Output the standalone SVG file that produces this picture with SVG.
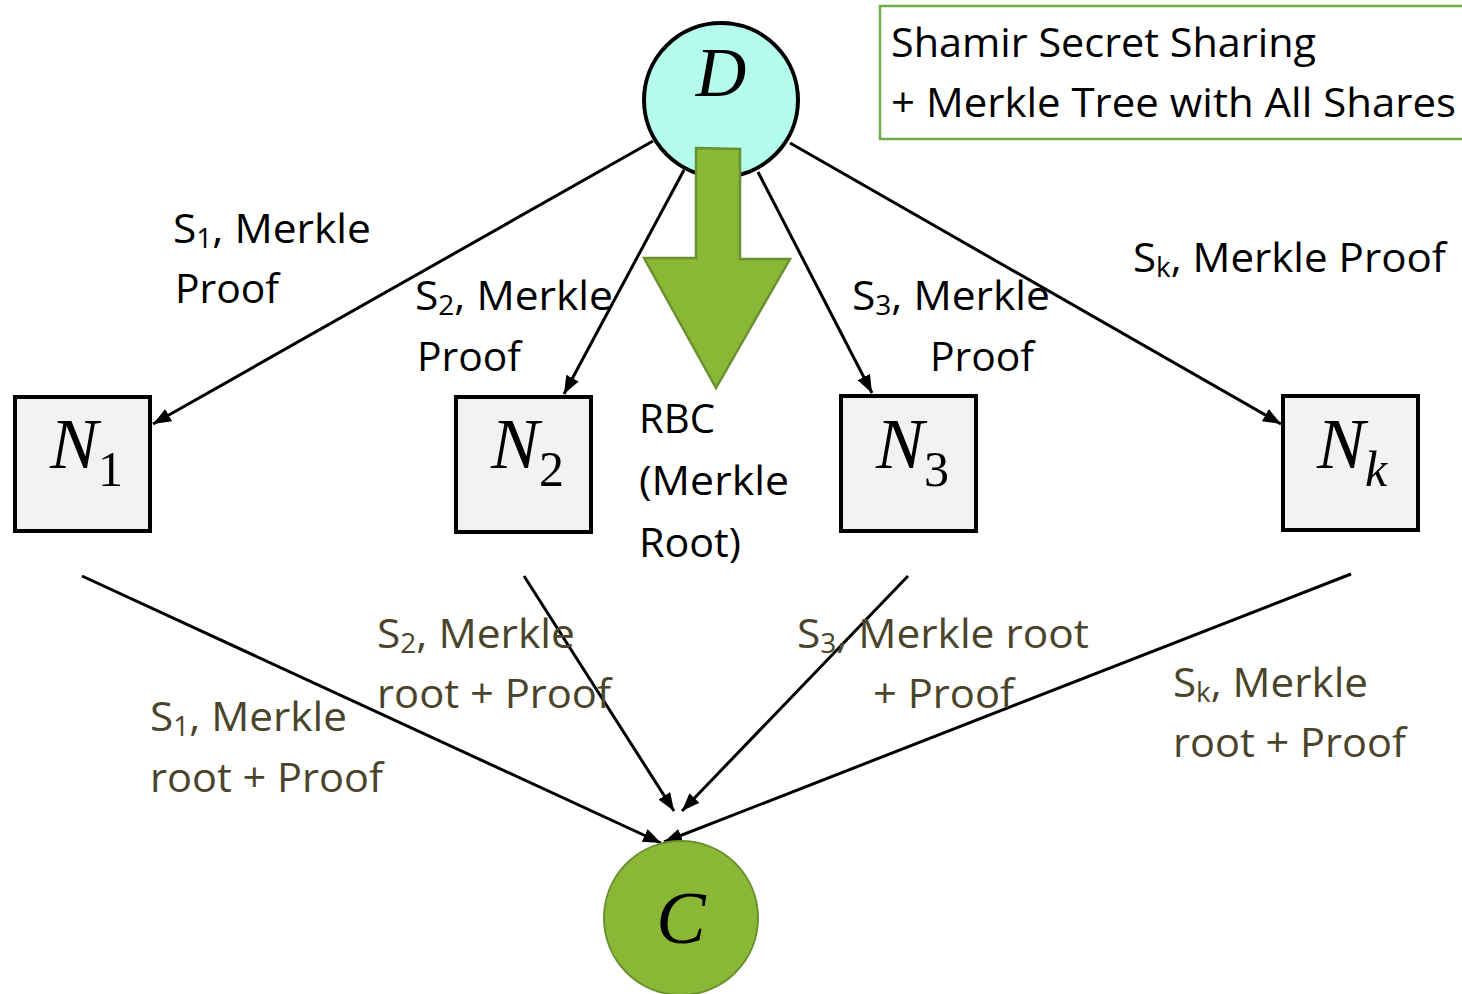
<svg xmlns="http://www.w3.org/2000/svg" width="1462" height="994" viewBox="0 0 1462 994">
  <style>
    .lbl { font-family: "Open Sans", "Noto Sans", sans-serif; font-size: 41px; fill: #000; }
    .lbl2 { font-family: "Open Sans", "Noto Sans", sans-serif; font-size: 41px; fill: #4a452a; }
    .sub { font-size: 27px; }
    .math { font-family: "Liberation Serif", "DejaVu Serif", serif; font-style: italic; fill: #000; }
    .box { fill: #f2f2f2; stroke: #000; stroke-width: 4; }
    .edge { stroke: #000; stroke-width: 3; fill: none; marker-end: url(#ah); }
  </style>
  <defs>
    <marker id="ah" markerUnits="userSpaceOnUse" markerWidth="20" markerHeight="16" refX="18" refY="7" orient="auto">
      <path d="M0,0 L18,7 L0,14 Z" fill="#000"/>
    </marker>
  </defs>
  <rect width="1462" height="994" fill="#fff"/>

  <!-- legend -->
  <g id="legend">
    <rect x="880" y="6" width="590" height="133" fill="#fff" stroke="#70ad47" stroke-width="2.5"/>
    <text class="lbl" x="891" y="57" textLength="425" lengthAdjust="spacingAndGlyphs">Shamir Secret Sharing</text>
    <text class="lbl" x="891" y="117" textLength="565" lengthAdjust="spacingAndGlyphs">+ Merkle Tree with All Shares</text>
  </g>

  <!-- connectors -->
  <g id="connectors">
    <line class="edge" x1="653" y1="141" x2="153" y2="424"/>
    <line class="edge" x1="684" y1="170" x2="564" y2="394"/>
    <line class="edge" x1="758" y1="172" x2="872" y2="393"/>
    <line class="edge" x1="790" y1="143" x2="1281" y2="424"/>
    <line class="edge" x1="82" y1="576" x2="661" y2="843"/>
    <line class="edge" x1="524" y1="576" x2="674" y2="811"/>
    <line class="edge" x1="908" y1="576" x2="682" y2="811"/>
    <line class="edge" x1="1351" y1="574" x2="664" y2="842"/>
  </g>

  <!-- dealer -->
  <g id="node-D">
    <circle cx="721" cy="100" r="77" fill="#b4fcec" stroke="#000" stroke-width="4"/>
    <text class="math" x="721" y="96" font-size="70" text-anchor="middle">D</text>
  </g>

  <!-- reliable broadcast of the root -->
  <g id="rbc-arrow">
    <path d="M696,148 L740,149 L740,259 L790,259 L716,388 L644,258 L696,258 Z" fill="#8ab735" stroke="#6a9130" stroke-width="2.5"/>
    <text class="lbl" x="639" y="433" textLength="76" lengthAdjust="spacingAndGlyphs">RBC</text>
    <text class="lbl" x="639" y="495" textLength="150" lengthAdjust="spacingAndGlyphs">(Merkle</text>
    <text class="lbl" x="639" y="557" textLength="102" lengthAdjust="spacingAndGlyphs">Root)</text>
  </g>

  <!-- share holders -->
  <g id="node-N1">
    <rect class="box" x="15" y="397" width="135" height="134"/>
    <text class="math" x="50" y="468" font-size="72">N<tspan font-size="50" font-style="normal" dy="18">1</tspan></text>
  </g>
  <g id="node-N2">
    <rect class="box" x="456" y="397" width="135" height="135"/>
    <text class="math" x="491" y="468" font-size="72">N<tspan font-size="50" font-style="normal" dy="18">2</tspan></text>
  </g>
  <g id="node-N3">
    <rect class="box" x="841" y="396" width="135" height="135"/>
    <text class="math" x="876" y="468" font-size="72">N<tspan font-size="50" font-style="normal" dy="18">3</tspan></text>
  </g>
  <g id="node-Nk">
    <rect class="box" x="1283" y="396" width="135" height="134"/>
    <text class="math" x="1317" y="468" font-size="72">N<tspan font-size="50" dy="18">k</tspan></text>
  </g>

  <!-- collector -->
  <g id="node-C">
    <circle cx="681" cy="918" r="77" fill="#8ab735" stroke="#6a9130" stroke-width="2"/>
    <text class="math" x="681" y="943" font-size="74" text-anchor="middle">C</text>
  </g>

  <!-- labels on dealer edges -->
  <g id="labels-top">
    <text class="lbl" x="173" y="243" textLength="198" lengthAdjust="spacingAndGlyphs">S<tspan class="sub" dy="5">1</tspan><tspan dy="-5">, Merkle</tspan></text>
    <text class="lbl" x="175" y="303" textLength="104" lengthAdjust="spacingAndGlyphs">Proof</text>
    <text class="lbl" x="415" y="310" textLength="198" lengthAdjust="spacingAndGlyphs">S<tspan class="sub" dy="5">2</tspan><tspan dy="-5">, Merkle</tspan></text>
    <text class="lbl" x="417" y="371" textLength="104" lengthAdjust="spacingAndGlyphs">Proof</text>
    <text class="lbl" x="852" y="310" textLength="198" lengthAdjust="spacingAndGlyphs">S<tspan class="sub" dy="5">3</tspan><tspan dy="-5">, Merkle</tspan></text>
    <text class="lbl" x="930" y="371" textLength="104" lengthAdjust="spacingAndGlyphs">Proof</text>
    <text class="lbl" x="1133" y="272" textLength="313" lengthAdjust="spacingAndGlyphs">S<tspan class="sub" dy="5">k</tspan><tspan dy="-5">, Merkle Proof</tspan></text>
  </g>

  <!-- labels on collector edges -->
  <g id="labels-bottom">
    <text class="lbl2" x="377" y="648" textLength="198" lengthAdjust="spacingAndGlyphs">S<tspan class="sub" dy="5">2</tspan><tspan dy="-5">, Merkle</tspan></text>
    <text class="lbl2" x="377" y="708" textLength="234" lengthAdjust="spacingAndGlyphs">root + Proof</text>
    <text class="lbl2" x="797" y="648" textLength="292" lengthAdjust="spacingAndGlyphs">S<tspan class="sub" dy="5">3</tspan><tspan dy="-5">, Merkle root</tspan></text>
    <text class="lbl2" x="873" y="708" textLength="141" lengthAdjust="spacingAndGlyphs">+ Proof</text>
    <text class="lbl2" x="150" y="731" textLength="197" lengthAdjust="spacingAndGlyphs">S<tspan class="sub" dy="5">1</tspan><tspan dy="-5">, Merkle</tspan></text>
    <text class="lbl2" x="150" y="792" textLength="233" lengthAdjust="spacingAndGlyphs">root + Proof</text>
    <text class="lbl2" x="1173" y="697" textLength="195" lengthAdjust="spacingAndGlyphs">S<tspan class="sub" dy="5">k</tspan><tspan dy="-5">, Merkle</tspan></text>
    <text class="lbl2" x="1173" y="757" textLength="233" lengthAdjust="spacingAndGlyphs">root + Proof</text>
  </g>
</svg>
